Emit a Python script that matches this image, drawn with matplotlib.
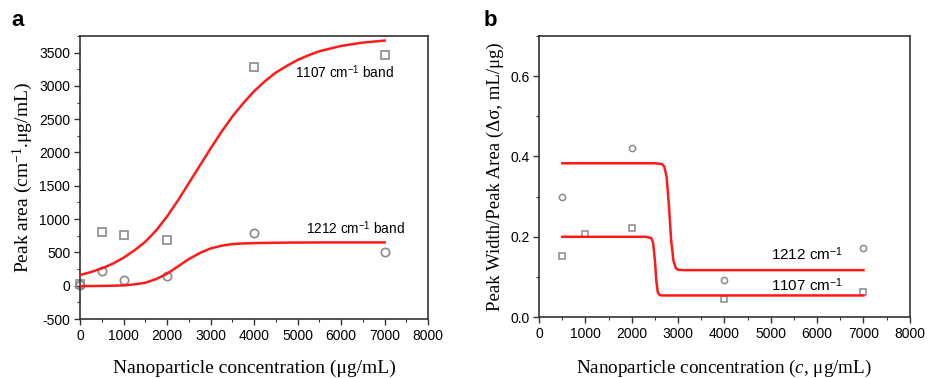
import matplotlib
matplotlib.use("Agg")
import matplotlib.pyplot as plt
from matplotlib.ticker import MultipleLocator, FormatStrFormatter

# ---- panel a: peak area vs concentration ----
conc_a = [0, 500, 1000, 2000, 4000, 7000]
area_1107 = [20, 810, 760, 680, 3280, 3470]
area_1212 = [10, 220, 90, 150, 790, 500]

# fitted curves
fit_x_a = [0, 250, 500, 750, 1000, 1250, 1500, 1750, 2000, 2250, 2500, 2750, 3000,
           3250, 3500, 3750, 4000, 4250, 4500, 4750, 5000, 5250, 5500, 5750, 6000,
           6250, 6500, 6750, 7000]
fit_1107_a = [160, 205, 260, 330, 420, 530, 660, 830, 1040, 1280, 1540, 1800, 2060,
              2310, 2540, 2740, 2920, 3070, 3200, 3300, 3390, 3460, 3520, 3560, 3600,
              3625, 3650, 3665, 3680]
fit_1212_a = [-5, -5, -3, 0, 5, 20, 45, 100, 180, 290, 400, 490, 560,
              600, 625, 635, 640, 643, 645, 647, 648, 649, 650, 650, 650,
              650, 650, 650, 650]

# ---- panel b: peak width / peak area ----
conc_b_1212 = [500, 2000, 4000, 7000]
ratio_1212 = [0.300, 0.420, 0.093, 0.173]
conc_b_1107 = [500, 1000, 2000, 4000, 7000]
ratio_1107 = [0.153, 0.208, 0.222, 0.045, 0.062]

fit_x_b1212 = [500, 2500, 2650, 2700, 2750, 2800, 2850, 2900, 2950, 3000, 3100, 7000]
fit_b1212 = [0.383, 0.383, 0.381, 0.375, 0.350, 0.280, 0.190, 0.140, 0.122, 0.118, 0.117, 0.117]
fit_x_b1107 = [500, 2300, 2420, 2460, 2500, 2530, 2560, 2600, 2650, 7000]
fit_b1107 = [0.200, 0.200, 0.197, 0.185, 0.140, 0.090, 0.062, 0.055, 0.054, 0.054]

RED = "#ff1a1a"
GREY = "#8a8a8a"
SERIF = "Liberation Serif"
SANS = "Liberation Sans"

plt.rcParams["font.family"] = SANS
plt.rcParams["axes.unicode_minus"] = False
plt.rcParams["mathtext.fontset"] = "custom"
plt.rcParams["mathtext.rm"] = SERIF
plt.rcParams["mathtext.it"] = SERIF + ":italic"

fig = plt.figure(figsize=(9.36, 3.78), dpi=100)
ax1 = fig.add_axes([0.0855, 0.156, 0.372, 0.749])
ax2 = fig.add_axes([0.576, 0.161, 0.396, 0.744])


def style_axes(ax):
    for s in ax.spines.values():
        s.set_linewidth(1.2)
        s.set_color("#333333")
    ax.tick_params(which="both", direction="out", top=False, right=False,
                   labelsize=10, color="#333333", pad=3)
    ax.tick_params(which="major", length=4, width=1)
    ax.tick_params(which="minor", length=2.5, width=0.8)


# panel a
ax1.plot(fit_x_a, fit_1107_a, color=RED, lw=1.8, zorder=3)
ax1.plot(fit_x_a, fit_1212_a, color=RED, lw=1.8, zorder=3)
ax1.plot(conc_a, area_1107, ls="none", marker="s", ms=5.5, mfc="none", mec=GREY, mew=1.2, clip_on=False)
ax1.plot(conc_a, area_1212, ls="none", marker="o", ms=6, mfc="none", mec=GREY, mew=1.2, clip_on=False)
ax1.set_xlim(0, 8000)
ax1.set_ylim(-500, 3750)
ax1.xaxis.set_major_locator(MultipleLocator(1000))
ax1.xaxis.set_minor_locator(MultipleLocator(500))
ax1.yaxis.set_major_locator(MultipleLocator(500))
ax1.yaxis.set_minor_locator(MultipleLocator(250))
style_axes(ax1)
ax1.set_xlabel("Nanoparticle concentration (μg/mL)", family=SERIF, fontsize=14, labelpad=12)
ax1.set_ylabel("Peak area (cm$^{-1}$.μg/mL)", family=SERIF, fontsize=14, labelpad=3)
ax1.text(4950, 3200, "1107 cm$^{\\mathregular{-1}}$ band", fontsize=9.8, va="center")
ax1.text(5200, 870, "1212 cm$^{\\mathregular{-1}}$ band", fontsize=9.8, va="center")

# panel b
ax2.plot(fit_x_b1212, fit_b1212, color=RED, lw=1.8, zorder=3)
ax2.plot(fit_x_b1107, fit_b1107, color=RED, lw=1.8, zorder=3)
ax2.plot(conc_b_1212, ratio_1212, ls="none", marker="o", ms=4.5, mfc="none", mec=GREY, mew=1.1)
ax2.plot(conc_b_1107, ratio_1107, ls="none", marker="s", ms=4, mfc="none", mec=GREY, mew=1.1)
ax2.set_xlim(0, 8000)
ax2.set_ylim(0, 0.7)
ax2.xaxis.set_major_locator(MultipleLocator(1000))
ax2.xaxis.set_minor_locator(MultipleLocator(500))
ax2.yaxis.set_major_locator(MultipleLocator(0.2))
ax2.yaxis.set_minor_locator(MultipleLocator(0.1))
ax2.yaxis.set_major_formatter(FormatStrFormatter("%.1f"))
style_axes(ax2)
ax2.set_xlabel("Nanoparticle concentration ($\\mathit{c}$, μg/mL)", family=SERIF, fontsize=13.8, labelpad=12)
ax2.set_ylabel("Peak Width/Peak Area (Δσ, mL/μg)", family=SERIF, fontsize=13.5, labelpad=4)
ax2.text(5000, 0.158, "1212 cm$^{\\mathregular{-1}}$", fontsize=11, va="center")
ax2.text(5000, 0.079, "1107 cm$^{\\mathregular{-1}}$", fontsize=11, va="center")

fig.text(0.012, 0.945, "a", fontsize=16, fontweight="bold", va="center")
fig.text(0.517, 0.945, "b", fontsize=16, fontweight="bold", va="center")

fig.savefig("out.png", dpi=100)
